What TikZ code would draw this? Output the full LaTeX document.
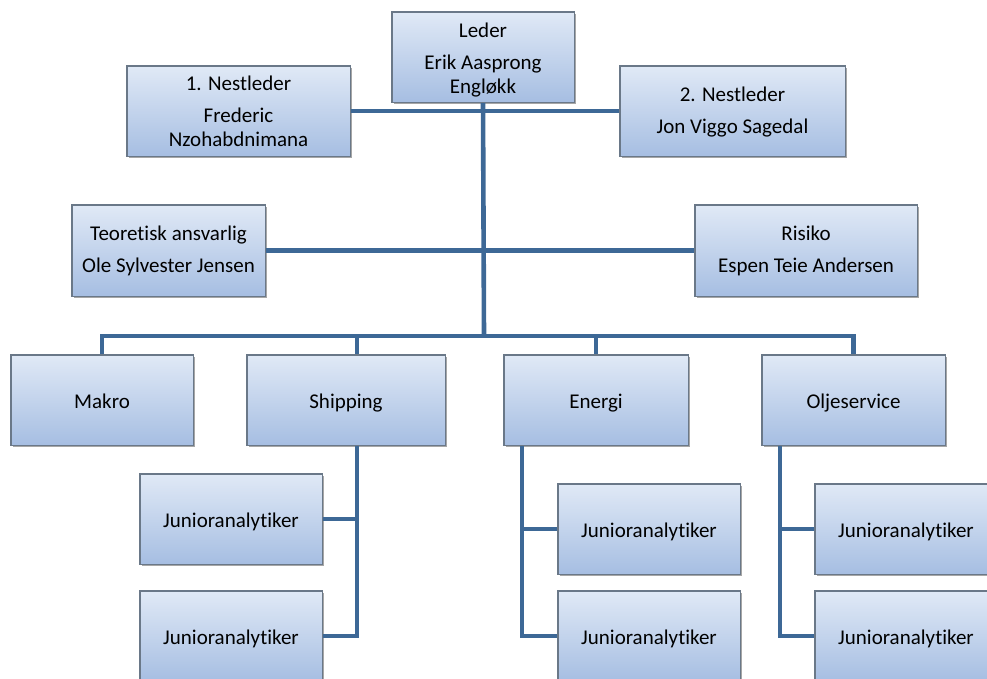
\documentclass[tikz,border=0pt]{standalone}
\usepackage{fontspec}
\setmainfont{Carlito}[Ligatures={NoCommon,NoRare,NoContextual}]
\usetikzlibrary{shadows}
\definecolor{boxtop}{HTML}{E0E9F6}
\definecolor{boxbot}{HTML}{A6BEE2}
\definecolor{boxline}{HTML}{6A7888}
\definecolor{conncol}{HTML}{3D6896}
\tikzset{
  orgbox/.style={draw=boxline, line width=0.9pt, top color=boxtop, bottom color=boxbot,
    inner sep=0pt, align=center, font=\fontsize{21}{24}\selectfont,
    drop shadow={shadow xshift=2pt, shadow yshift=-2pt, fill=black, opacity=0.35}},
  onebox/.style={orgbox, text height=18pt, text depth=2pt},
  conn/.style={draw=conncol, line width=4.6pt}
}
\begin{document}
\begin{tikzpicture}[x=1pt,y=-1pt]
\useasboundingbox (0,0) rectangle (987,679);
\clip (0,0) rectangle (987,679);
\coordinate (bus) at (484,336);
\coordinate (sdrop) at (357,445);
\coordinate (edrop) at (522,445);
\coordinate (odrop) at (780,445);
\node[orgbox, minimum width=182pt, minimum height=90pt] (leder) at (483,57) {\rule{0pt}{20pt}Leder\\[8pt]Erik Aasprong\\Engløkk};
\node[orgbox, minimum width=223pt, minimum height=90pt] (n1) at (238.5,111) {1. Nestleder\\[8pt]Frederic\\Nzohabdnimana};
\node[orgbox, minimum width=225pt, minimum height=90pt] (n2) at (732.5,111) {\rule{0pt}{17pt}2. Nestleder\\[8pt]Jon Viggo Sagedal};
\node[orgbox, minimum width=193pt, minimum height=91pt] (teo) at (168.5,250.5) {\rule{0pt}{16pt}Teoretisk ansvarlig\\[8pt]Ole Sylvester Jensen};
\node[orgbox, minimum width=222pt, minimum height=91pt] (risk) at (806,250.5) {\rule{0pt}{16pt}Risiko\\[8pt]Espen Teie Andersen};
\node[onebox, minimum width=182pt, minimum height=90pt] (makro) at (102,400) {Makro};
\node[onebox, minimum width=198pt, minimum height=90pt] (ship) at (346,400) {Shipping};
\node[onebox, minimum width=184pt, minimum height=90pt] (energi) at (596,400) {Energi};
\node[onebox, minimum width=183pt, minimum height=90pt] (olje) at (853.5,400) {Oljeservice};
\node[onebox, minimum width=182pt, minimum height=90pt] (sj1) at (231,519) {Junioranalytiker};
\node[onebox, minimum width=182pt, minimum height=90pt] (sj2) at (231,636) {Junioranalytiker};
\node[onebox, minimum width=182pt, minimum height=90pt] (ej1) at (649,529) {Junioranalytiker};
\node[onebox, minimum width=182pt, minimum height=90pt] (ej2) at (649,636) {Junioranalytiker};
\node[onebox, minimum width=182pt, minimum height=90pt] (oj1) at (906,529) {Junioranalytiker};
\node[onebox, minimum width=182pt, minimum height=90pt] (oj2) at (906,636) {Junioranalytiker};
% connectors
\draw[conn] (n1.east) -- (n2.west);
\draw[conn] (teo.east) -- (risk.west);
\draw[conn] (leder.south) -- (bus);
\draw[conn] (makro.north) |- (bus) -| (olje.north);
\draw[conn] (ship.north -| sdrop) -- (sdrop |- bus);
\draw[conn] (energi.north) -- (energi.north |- bus);
\draw[conn] (sdrop) |- (sj2.east);
\draw[conn] (sj1.east) -- (sj1.east -| sdrop);
\draw[conn] (edrop) |- (ej2.west);
\draw[conn] (ej1.west) -- (ej1.west -| edrop);
\draw[conn] (odrop) |- (oj2.west);
\draw[conn] (oj1.west) -- (oj1.west -| odrop);
\foreach \n in {leder,n1,n2,teo,risk,makro,ship,energi,olje,sj1,sj2,ej1,ej2,oj1,oj2} {
  \draw[boxline, line width=0.9pt] (\n.north west) rectangle (\n.south east);
}
\end{tikzpicture}
\end{document}
